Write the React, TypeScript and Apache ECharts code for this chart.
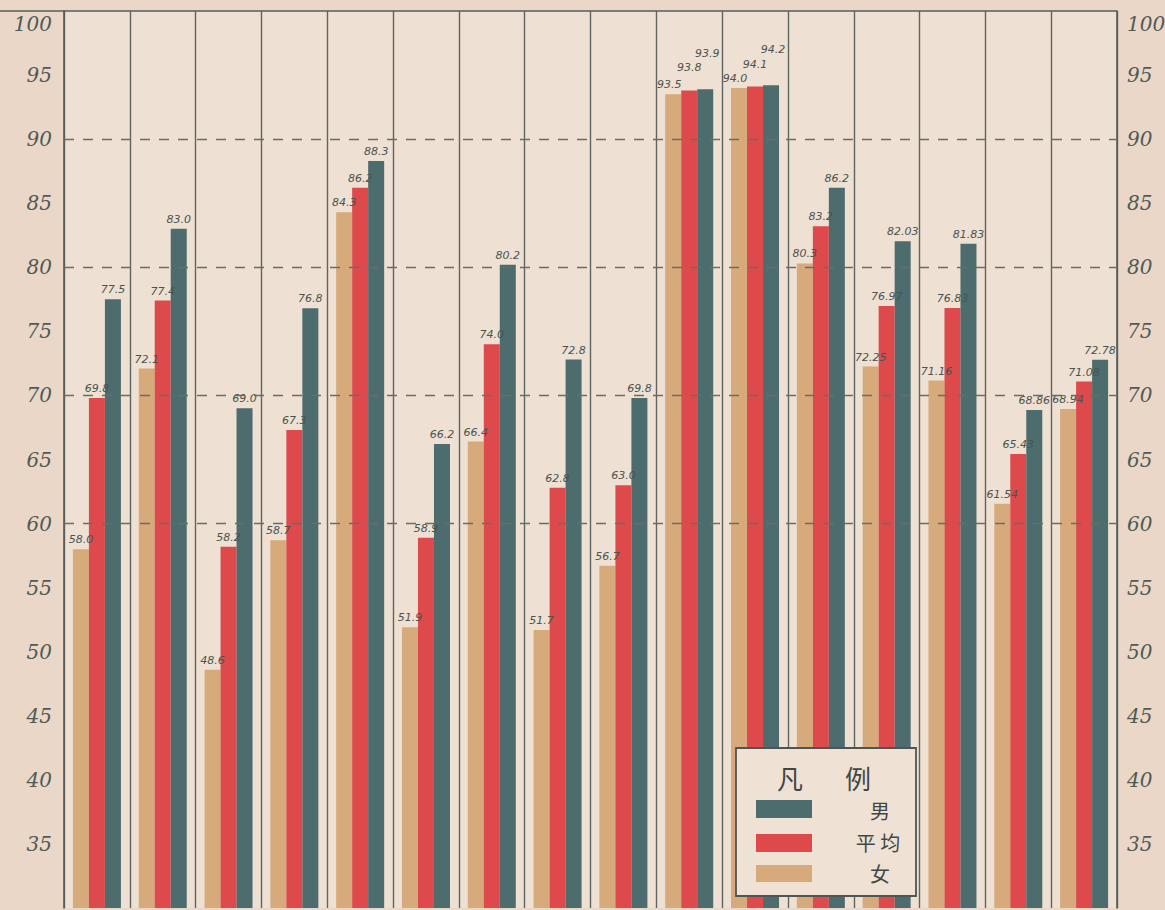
import React, { useEffect, useRef } from "react";
import * as echarts from "echarts";

const categories = ["1", "2", "3", "4", "5", "6", "7", "8", "9", "10", "11", "12", "13", "14", "15", "16"];
const female = [58.0, 72.1, 48.6, 58.7, 84.3, 51.9, 66.4, 51.7, 56.7, 93.5, 94.0, 80.3, 72.25, 71.16, 61.54, 68.94];
const average = [69.8, 77.4, 58.2, 67.3, 86.2, 58.9, 74.0, 62.8, 63.0, 93.8, 94.1, 83.2, 76.97, 76.83, 65.43, 71.08];
const male = [77.5, 83.0, 69.0, 76.8, 88.3, 66.2, 80.2, 72.8, 69.8, 93.9, 94.2, 86.2, 82.03, 81.83, 68.86, 72.78];
const dashedLevels = [90, 80, 70, 60];
const legendTitle = ["凡", "例"];
const legendNames = ["男", "平均", "女"];
const crowdedGroups = [9, 10];

const PAPER = "#ead7c8";
const INK = "#4f5b57";
const TEAL = "#4c6c6e";
const RED = "#de4a4c";
const TAN = "#d6aa7a";

export default function App() {
  const ref = useRef<HTMLDivElement>(null);
  useEffect(() => {
    if (!ref.current) return;
    const chart = echarts.init(ref.current, null, { renderer: "svg" });
    const labelStyle = {
      show: true,
      position: "top" as const,
      distance: 4,
      fontSize: 11,
      fontStyle: "italic" as const,
      fontFamily: "DejaVu Sans",
      color: "#4a534f",
      formatter: (p: any) => (p.dataIndex >= 12 ? Number(p.value).toFixed(2) : Number(p.value).toFixed(1)),
    };
    const withStagger = (arr: number[], extra: number, dx: number) =>
      arr.map((v, i) =>
        crowdedGroups.includes(i) ? { value: v, label: { distance: 4 + extra, offset: [dx, 0] } } : v
      );
    const yAxisCommon = {
      type: "value" as const,
      min: 30,
      max: 100,
      interval: 5,
      splitLine: { show: false },
      axisTick: { show: false },
      axisLine: { show: true, lineStyle: { color: "#565e5a", width: 1.6 } },
      axisLabel: {
        fontSize: 20,
        lineHeight: 26,
        fontStyle: "italic" as const,
        fontFamily: "DejaVu Serif",
        color: INK,
        formatter: (v: number) => (v === 30 ? "" : v === 100 ? "\n100" : String(v)),
      },
    };
    const gz = 100;
    const txt = (text: string, x: number, y: number, size: number) => ({
      type: "text",
      z: gz + 2,
      x,
      y,
      style: { text, fontSize: size, fontFamily: "Noto Sans CJK SC", fill: "#3f4846", align: "center", verticalAlign: "middle" },
    });
    chart.setOption({
      animation: false,
      backgroundColor: PAPER,
      grid: {
        left: 64,
        right: 48,
        top: 11,
        bottom: 2,
        outerBoundsMode: "none",
        containLabel: false,
        show: true,
        backgroundColor: "#eee0d2",
        borderColor: "transparent",
      },
      xAxis: {
        type: "category",
        data: categories,
        boundaryGap: true,
        axisLine: { show: false },
        axisTick: { show: false },
        axisLabel: { show: false },
        splitLine: { show: true, lineStyle: { color: "#5f6561", width: 1.4 } },
      },
      yAxis: [
        { ...yAxisCommon, position: "left", axisLabel: { ...yAxisCommon.axisLabel, margin: 12 } },
        { ...yAxisCommon, position: "right", axisLabel: { ...yAxisCommon.axisLabel, margin: 10 } },
      ],
      series: [
        {
          type: "line",
          data: [],
          z: 1,
          silent: true,
          markLine: {
            silent: true,
            symbol: "none",
            label: { show: false },
            lineStyle: { color: "#6b6c67", width: 1.3, type: [10, 9] },
            data: dashedLevels.map((v) => ({ yAxis: v })),
          },
        },
        {
          type: "line",
          data: [],
          z: 1,
          silent: true,
          markLine: {
            silent: true,
            symbol: "none",
            label: { show: false },
            lineStyle: { color: "#565e5a", width: 1.6, type: "solid" },
            data: [{ yAxis: 100 }],
          },
        },
        {
          name: legendNames[2],
          type: "bar",
          data: withStagger(female, 0, -4),
          barWidth: 16,
          barGap: "0%",
          itemStyle: { color: TAN },
          label: labelStyle,
          z: 2,
        },
        {
          name: legendNames[1],
          type: "bar",
          data: withStagger(average, 13, 0),
          barWidth: 16,
          barGap: "0%",
          itemStyle: { color: RED },
          label: labelStyle,
          z: 2,
        },
        {
          name: legendNames[0],
          type: "bar",
          data: withStagger(male, 26, 2),
          barWidth: 16,
          barGap: "0%",
          itemStyle: { color: TEAL },
          label: labelStyle,
          z: 2,
        },
      ],
      graphic: [
        {
          type: "line",
          z: 5,
          shape: { x1: 0, y1: 11, x2: 64, y2: 11 },
          style: { stroke: "#565e5a", lineWidth: 1.6 },
        },
        {
          type: "rect",
          z: gz,
          shape: { x: 736, y: 748, width: 180, height: 148 },
          style: { fill: "#efe2d4", stroke: "#4f5552", lineWidth: 1.8 },
        },
        txt(legendTitle[0], 790, 777, 26),
        txt(legendTitle[1], 858, 777, 26),
        { type: "rect", z: gz + 1, shape: { x: 756, y: 800, width: 56, height: 18 }, style: { fill: TEAL } },
        { type: "rect", z: gz + 1, shape: { x: 756, y: 834, width: 56, height: 18 }, style: { fill: RED } },
        { type: "rect", z: gz + 1, shape: { x: 756, y: 865, width: 56, height: 17 }, style: { fill: TAN } },
        txt(legendNames[0], 880, 810, 20),
        txt(legendNames[1].split("").join(" "), 878, 842, 20),
        txt(legendNames[2], 880, 873, 20),
      ],
    });
    return () => chart.dispose();
  }, []);
  return <div ref={ref} style={{ position: "fixed", left: 0, top: 0, width: 1165, height: 910 }} />;
}
